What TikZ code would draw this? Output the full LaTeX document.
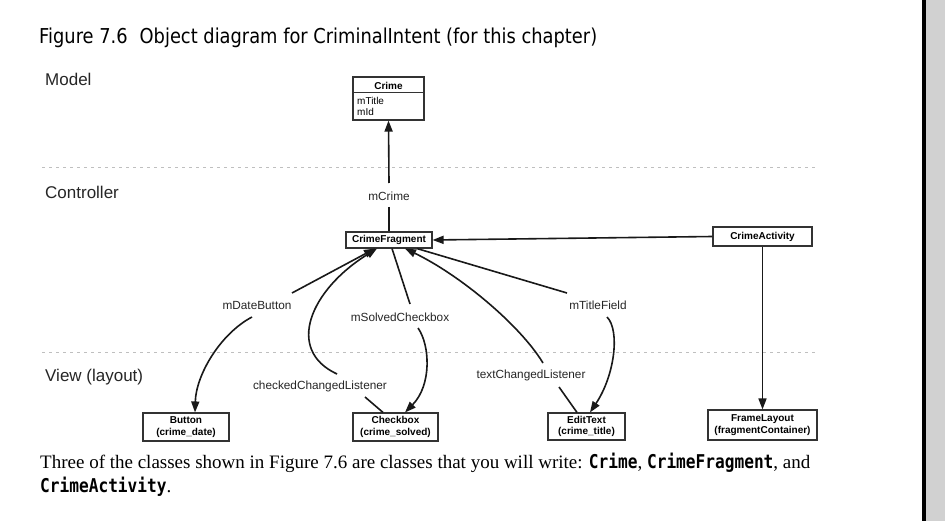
\documentclass[tikz,border=0pt]{standalone}
\usepackage{fontspec}
\setmainfont{Liberation Serif}
\newfontfamily\diag{Liberation Sans}
\newfontfamily\titlefont[FakeStretch=0.87]{DejaVu Sans}
\newfontfamily\codefont[FakeStretch=0.85]{DejaVu Sans Mono}
\usetikzlibrary{arrows.meta}
\begin{document}
\begin{tikzpicture}[x=1pt,y=-1pt,
  box/.style={draw=black!80, line width=1.1pt, fill=white, inner sep=0pt,
    font=\diag\fontsize{10}{11.5}\selectfont\bfseries, align=center},
  lbl/.style={inner sep=0pt, font=\diag\fontsize{11.8}{14}\selectfont, text=black!85},
  lane/.style={anchor=base west, inner sep=0pt, font=\diag\fontsize{17}{20}\selectfont, text=black!85},
  conn/.style={line width=1.6pt, draw=black!90},
  arr/.style={conn, -{Triangle[length=11pt,width=8pt]}},
  sepline/.style={draw=black!25, line width=1pt, dash pattern=on 3pt off 4pt},
  para/.style={anchor=base west, inner sep=0pt, font=\fontsize{19}{22}\selectfont}
]
\useasboundingbox (0,0) rectangle (945,521);
\fill[white] (0,0) rectangle (945,521);
% sidebar
\fill[black!18] (926,0) rectangle (945,521);
\fill[black] (922,0) rectangle (926,521);

% title
\node[anchor=base west, inner sep=0pt, font=\titlefont\fontsize{20.5}{24}\selectfont] (title) at (39,44)
  {Figure 7.6\hspace{12pt}Object diagram for CriminalIntent (for this chapter)};

% lanes
\node[lane] (lmodel) at (45,86) {Model};
\node[lane] (lctrl) at (45,199) {Controller};
\node[lane] (lview) at (45,381) {View (layout)};
\draw[sepline] (42,168) -- (815,168);
\draw[sepline] (42,352) -- (815,352);

% Crime box
\node[draw=black!80, line width=1.1pt, minimum width=71pt, minimum height=43pt, inner sep=0pt] (crime) at (388.5,98.5) {};
\draw[draw=black!80, line width=1pt] (crime.west |- 0,93) -- (crime.east |- 0,93);
\node[inner sep=0pt, font=\diag\fontsize{10}{11.5}\selectfont\bfseries] (crimename) at (388.5,85.5) {Crime};
\node[anchor=west, inner sep=0pt, align=left, font=\diag\fontsize{10}{11.5}\selectfont] (crimeattr) at (357,106.5) {mTitle\\mId};

% boxes
\node[box, minimum width=86pt, minimum height=16pt] (cf) at (389,240) {CrimeFragment};
\node[box, minimum width=99pt, minimum height=19pt] (ca) at (762.5,236.5) {CrimeActivity};
\node[box, minimum width=109pt, minimum height=30pt] (fl) at (762.5,425) {FrameLayout\\(fragmentContainer)};
\node[box, minimum width=77pt, minimum height=27pt] (et) at (586.5,426.5) {EditText\\(crime\_title)};
\node[box, minimum width=86pt, minimum height=28pt] (btn) at (186,427) {Button\\(crime\_date)};
\node[box, minimum width=85pt, minimum height=28pt] (cb) at (395.5,427) {Checkbox\\(crime\_solved)};

% labels
\node[lbl] (mcrime) at (389,196) {mCrime};
\node[lbl] (mdb) at (257,305) {mDateButton};
\node[lbl] (msc) at (400,317) {mSolvedCheckbox};
\node[lbl] (ccl) at (320,386) {checkedChangedListener};
\node[lbl] (tcl) at (531,375) {textChangedListener};
\node[lbl] (mtf) at (598,305) {mTitleField};

% connectors
\draw[arr] ([shift={(0,-13)}]mcrime.center) -- (crime.south);
\draw[conn] ([shift={(0,11)}]mcrime.center) -- (cf.north);
\draw[arr] (ca.west) -- (cf.east);
\draw[arr] (ca.south) -- (fl.north);
\draw[arr] ([shift={(35,-12)}]mdb.center) -- ([shift={(-14,0)}]cf.south);
\draw[arr] ([shift={(-5,12)}]mdb.center) .. controls (220,334) and (196,375) .. ([shift={(9,0)}]btn.north);
\draw[arr] ([shift={(17,-12)}]ccl.center) .. controls (285,350) and (310,290) .. ([shift={(-12,0)}]cf.south);
\draw[conn] ([shift={(45,11)}]ccl.center) -- ([shift={(-12.5,0)}]cb.north);
\draw[conn] ([shift={(3,0)}]cf.south) -- ([shift={(10,-13)}]msc.center);
\draw[arr] ([shift={(18,11)}]msc.center) .. controls (430,345) and (432,385) .. ([shift={(9.5,0)}]cb.north);
\draw[arr] ([shift={(12,-12)}]tcl.center) .. controls (520,325) and (460,275) .. ([shift={(16,0)}]cf.south);
\draw[conn] ([shift={(28,0)}]cf.south) -- ([shift={(-31,-12)}]mtf.center);
\draw[arr] ([shift={(9,12)}]mtf.center) .. controls (620,330) and (615,375) .. ([shift={(3.5,0)}]et.north);
\draw[conn] ([shift={(28,12)}]tcl.center) -- ([shift={(-9.5,0)}]et.north);

% paragraph
\node[para] (para1) at (40,468) {Three of the classes shown in Figure 7.6 are classes that you will write: {\codefont\bfseries Crime}, {\codefont\bfseries CrimeFragment}, and};
\node[para] (para2) at (40,492) {{\codefont\bfseries CrimeActivity}.};
\end{tikzpicture}
\end{document}
